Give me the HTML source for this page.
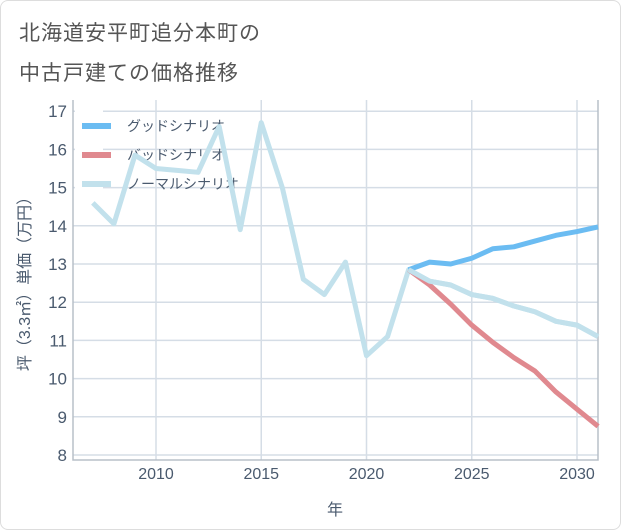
<!DOCTYPE html>
<html><head><meta charset="utf-8"><style>
body{margin:0;background:#fff;font-family:"Liberation Sans","Noto Sans CJK JP",sans-serif;}
#card{position:absolute;left:0;top:0;width:619px;height:528px;border:1px solid #ddd;border-radius:8px;background:#fff;}
.title{position:absolute;left:18px;font-size:21px;color:#555;letter-spacing:1px;}
</style></head><body>
<div id="card">
<div class="title" style="top:16px">北海道安平町追分本町の</div>
<div class="title" style="top:56px">中古戸建ての価格推移</div>
</div>
<svg id="chart" width="621" height="530" style="position:absolute;left:0;top:0"></svg>
<script>
const years=[2007,2008,2009,2010,2011,2012,2013,2014,2015,2016,2017,2018,2019,2020,2021,2022,2023,2024,2025,2026,2027,2028,2029,2030,2031];
const normal=[14.6,14.05,15.85,15.5,15.45,15.4,16.6,13.9,16.7,15.0,12.6,12.2,13.05,10.6,11.1,12.85,12.55,12.45,12.2,12.1,11.9,11.75,11.5,11.4,11.1];
const fYears=[2022,2023,2024,2025,2026,2027,2028,2029,2030,2031];
const good=[12.85,13.05,13.0,13.15,13.4,13.45,13.6,13.75,13.85,13.97];
const bad=[12.85,12.45,11.95,11.4,10.95,10.55,10.2,9.65,9.2,8.75];
const yTicks=[8,9,10,11,12,13,14,15,16,17];
const xTicks=[2010,2015,2020,2025,2030];
const NS="http://www.w3.org/2000/svg";
const svg=document.getElementById('chart');
const L=73,R=598,T=100,B=460;
const x=v=>156+(v-2010)*21.05;
const y=v=>455-(v-8)*38.2;
function mk(t,a){const e=document.createElementNS(NS,t);for(const k in a)e.setAttribute(k,a[k]);svg.appendChild(e);return e;}
for(const t of yTicks){const g=mk('line',{x1:L,x2:R,y1:y(t),y2:y(t),stroke:'#d5dde6','stroke-width':1.5});


const tx=mk('text',{x:L-6,y:y(t)+6,'text-anchor':'end','font-size':17,fill:'#4a5a6e'});tx.textContent=t;

}
for(const t of xTicks){const g=mk('line',{x1:x(t),x2:x(t),y1:T,y2:B,stroke:'#d5dde6','stroke-width':1.5});


const tx=mk('text',{x:x(t),y:B+19,'text-anchor':'middle','font-size':16,fill:'#4a5a6e'});tx.textContent=t;

}
const ax=mk('path',{d:`M${L},${T}V${B}H${R}V${T}`,fill:'none',stroke:'#b8c0c8','stroke-width':1.5});


const leg=[['グッドシナリオ','#6bbcf2'],['バッドシナリオ','#e0898f'],['ノーマルシナリオ','#c2e1ec']];
leg.forEach((l,i)=>{const yy=126+i*29;
const t=mk('text',{x:127,y:yy+5,'font-size':14,fill:'#4a5a6e'});t.textContent=l[0];

});
function line(xs,vs,c,n){const p=mk('polyline',{points:xs.map((v,i)=>x(v)+','+y(vs[i])).join(' '),fill:'none',stroke:c,'stroke-width':5,'stroke-linejoin':'round'});

}
line(years,normal,'#c2e1ec','normal-scenario-line');
line(fYears,bad,'#e0898f','bad-scenario-line');
line(fYears,good,'#6bbcf2','good-scenario-line');
line(years.slice(15),normal.slice(15),'#c2e1ec','normal-scenario-forecast');
const lb=mk('rect',{x:75,y:110,width:28,height:88,fill:'#fff'});


leg.forEach((l,i)=>{const yy=126+i*29;
const s=mk('line',{x1:82,x2:111,y1:yy,y2:yy,stroke:l[1],'stroke-width':6});

});
const xt=mk('text',{x:335,y:515,'text-anchor':'middle','font-size':16,fill:'#4a5a6e'});xt.textContent='年';


const yt=mk('text',{x:0,y:0,'text-anchor':'middle','font-size':16,fill:'#4a5a6e',transform:'translate(30,280) rotate(-90)'});yt.textContent='坪（3.3㎡）単価（万円）';


</script>
</body></html>
